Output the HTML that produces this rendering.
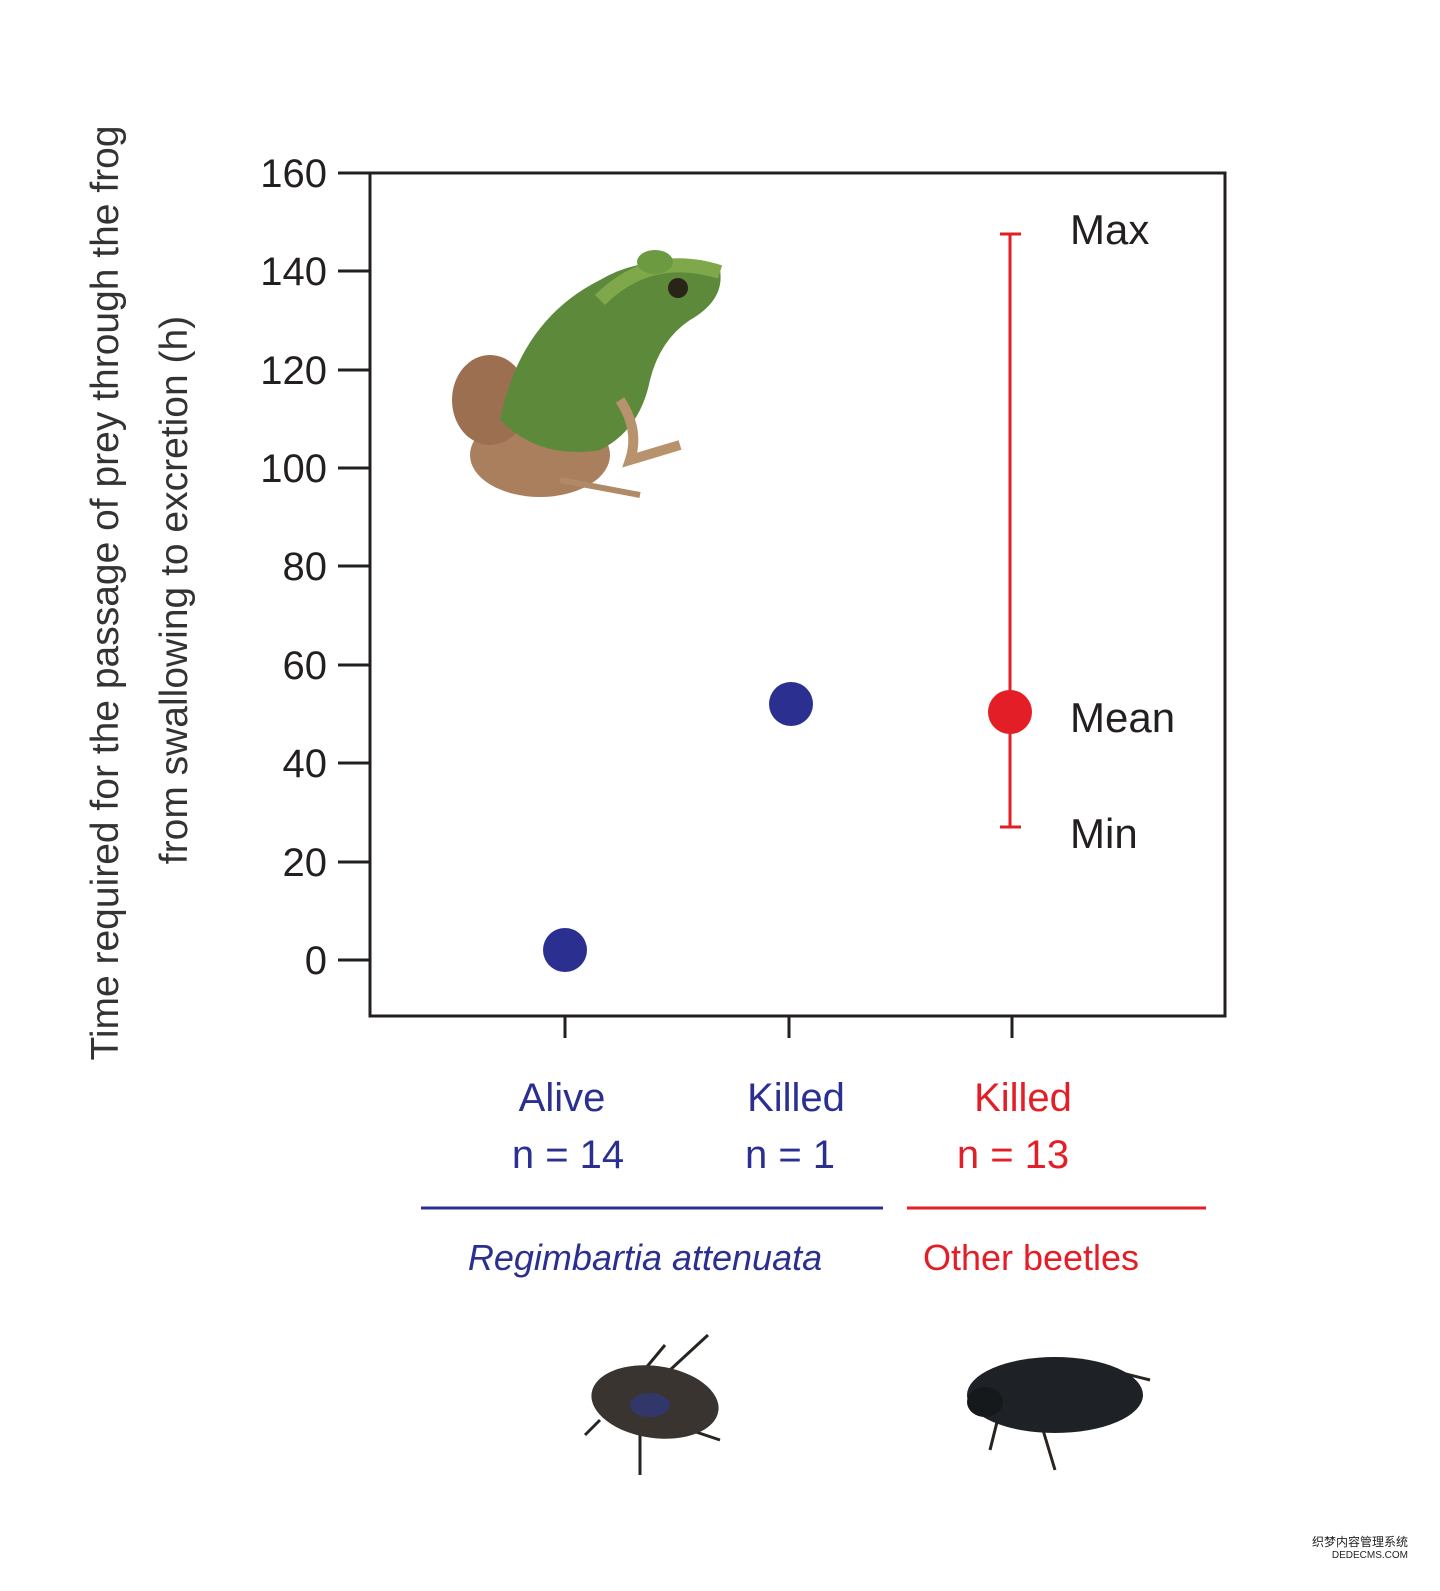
<!DOCTYPE html>
<html><head><meta charset="utf-8"><style>
html,body{margin:0;padding:0;background:#fff;}
svg{display:block;}
text{font-family:"Liberation Sans",sans-serif;}
</style></head><body>
<svg width="1440" height="1591" viewBox="0 0 1440 1591" xmlns="http://www.w3.org/2000/svg">
<rect width="1440" height="1591" fill="#fff"/>
<g fill="#333" font-size="39">
<text transform="translate(118,593) rotate(-90)" text-anchor="middle">Time required for the passage of prey through the frog</text>
<text transform="translate(187,590) rotate(-90)" text-anchor="middle">from swallowing to excretion (h)</text>
</g>
<rect x="370" y="173" width="855" height="843" fill="none" stroke="#231f20" stroke-width="3"/>
<g stroke="#231f20" stroke-width="3">
<line x1="338" y1="173" x2="370" y2="173"/><line x1="338" y1="271" x2="370" y2="271"/>
<line x1="338" y1="370" x2="370" y2="370"/><line x1="338" y1="468" x2="370" y2="468"/>
<line x1="338" y1="566" x2="370" y2="566"/><line x1="338" y1="665" x2="370" y2="665"/>
<line x1="338" y1="763" x2="370" y2="763"/><line x1="338" y1="862" x2="370" y2="862"/>
<line x1="338" y1="960" x2="370" y2="960"/>
<line x1="565" y1="1016" x2="565" y2="1038"/><line x1="789" y1="1016" x2="789" y2="1038"/><line x1="1012" y1="1016" x2="1012" y2="1038"/>
</g>
<g fill="#231f20" font-size="40" text-anchor="end">
<text x="327" y="187">160</text><text x="327" y="285">140</text><text x="327" y="384">120</text>
<text x="327" y="482">100</text><text x="327" y="580">80</text><text x="327" y="679">60</text>
<text x="327" y="777">40</text><text x="327" y="876">20</text><text x="327" y="974">0</text>
</g>
<g>
<ellipse cx="540" cy="455" rx="70" ry="42" fill="#a97f5e"/>
<ellipse cx="490" cy="400" rx="38" ry="45" fill="#9c6f50"/>
<path d="M500 420 Q520 320 600 280 Q650 250 720 270 Q725 300 690 320 Q660 340 650 380 Q640 430 600 450 Q540 460 500 420Z" fill="#5c8a3a"/>
<path d="M600 300 Q650 250 720 272" stroke="#7fa84a" stroke-width="14" fill="none"/>
<ellipse cx="655" cy="262" rx="18" ry="12" fill="#6b9a40"/>
<circle cx="678" cy="288" r="10" fill="#2a2418"/>
<path d="M620 400 Q640 430 630 460 L680 445" stroke="#b8926c" stroke-width="10" fill="none"/>
<path d="M560 480 L640 495" stroke="#b08a66" stroke-width="6"/>
</g>
<circle cx="565" cy="950" r="22" fill="#2b3090"/>
<circle cx="791" cy="704" r="22" fill="#2b3090"/>
<g stroke="#e31e26" stroke-width="3">
<line x1="1010" y1="234" x2="1010" y2="827"/>
<line x1="1000" y1="234" x2="1021" y2="234"/>
<line x1="1000" y1="827" x2="1021" y2="827"/>
</g>
<circle cx="1010" cy="712" r="22" fill="#e31e26"/>
<g fill="#231f20" font-size="42">
<text x="1070" y="244">Max</text><text x="1070" y="732">Mean</text><text x="1070" y="848">Min</text>
</g>
<g font-size="40" text-anchor="middle">
<text x="562" y="1111" fill="#2b3090">Alive</text>
<text x="568" y="1168" fill="#2b3090">n = 14</text>
<text x="796" y="1111" fill="#2b3090">Killed</text>
<text x="790" y="1168" fill="#2b3090">n = 1</text>
<text x="1023" y="1111" fill="#e31e26">Killed</text>
<text x="1013" y="1168" fill="#e31e26">n = 13</text>
</g>
<line x1="421" y1="1208" x2="883" y2="1208" stroke="#2b3090" stroke-width="3"/>
<line x1="907" y1="1208" x2="1206" y2="1208" stroke="#e31e26" stroke-width="3"/>
<text x="645" y="1270" font-size="36" font-style="italic" fill="#2b3090" text-anchor="middle">Regimbartia attenuata</text>
<text x="1031" y="1270" font-size="36" fill="#e31e26" text-anchor="middle">Other beetles</text>
<g stroke="#2a2420" stroke-width="3">
<line x1="640" y1="1375" x2="665" y2="1345"/><line x1="670" y1="1370" x2="708" y2="1335"/>
<line x1="640" y1="1430" x2="640" y2="1475"/><line x1="600" y1="1420" x2="585" y2="1435"/><line x1="690" y1="1430" x2="720" y2="1440"/>
<line x1="1000" y1="1410" x2="990" y2="1450"/><line x1="1040" y1="1420" x2="1055" y2="1470"/><line x1="1110" y1="1370" x2="1150" y2="1380"/>
</g>
<ellipse cx="655" cy="1402" rx="64" ry="36" fill="#3a3430" transform="rotate(8 655 1402)"/>
<ellipse cx="650" cy="1405" rx="20" ry="12" fill="#2b3a90" opacity="0.6"/>
<ellipse cx="1055" cy="1395" rx="88" ry="38" fill="#1e2226"/>
<ellipse cx="985" cy="1402" rx="18" ry="15" fill="#16191c"/>
<text x="1408" y="1546" font-size="12" fill="#222" text-anchor="end" font-family="Noto Sans CJK SC">织梦内容管理系统</text>
<text x="1408" y="1558" font-size="10" fill="#222" text-anchor="end">DEDECMS.COM</text>
</svg>
</body></html>
